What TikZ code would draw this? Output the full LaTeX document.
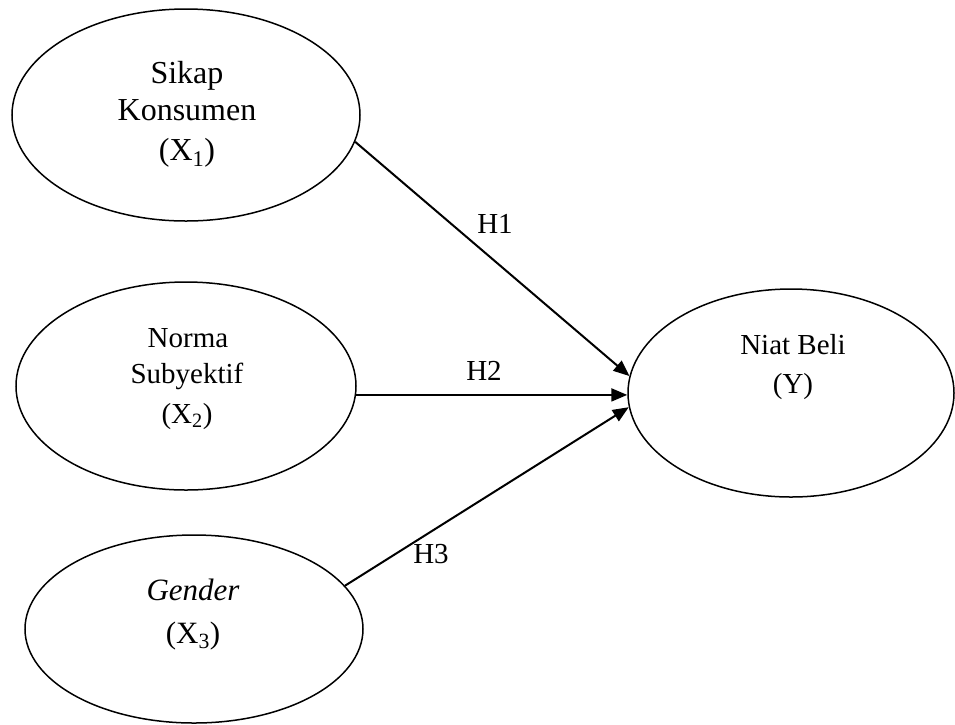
\documentclass[tikz,border=0pt]{standalone}
\usepackage{fontspec}
\setmainfont{Liberation Serif}
\usetikzlibrary{shapes.geometric,arrows.meta}
\begin{document}
\begin{tikzpicture}[x=1pt,y=-1pt,
  var/.style={draw, ellipse, line width=1.5pt, inner sep=0pt},
  txt/.style={anchor=base, inner sep=0pt},
  conn/.style={line width=2pt, -{Triangle[length=16pt,width=13pt]}},
  big/.style={font=\fontsize{32}{38}\selectfont},
  mid/.style={font=\fontsize{29}{35}\selectfont},
  gen/.style={font=\fontsize{31}{37}\selectfont}]
\useasboundingbox (0,0) rectangle (955,724);
% ellipses
\node[var, minimum width=348pt, minimum height=212pt] (e1) at (186,115) {};
\node[var, minimum width=340pt, minimum height=208pt] (e2) at (186,386) {};
\node[var, minimum width=338pt, minimum height=188pt] (e3) at (194,629) {};
\node[var, minimum width=326pt, minimum height=208pt] (e4) at (791,393) {};
% texts
\node[txt, big] (t1a) at (187,83) {Sikap};
\node[txt, big] (t1b) at (187,120) {Konsumen};
\node[txt, big] (t1c) at (187,160) {(X\textsubscript{1})};
\node[txt, mid] (t2a) at (188,347) {Norma};
\node[txt, mid] (t2b) at (187,383) {Subyektif};
\node[txt, mid] (t2c) at (187,423) {(X\textsubscript{2})};
\node[txt, gen] (t3a) at (193,600) {\itshape Gender};
\node[txt, gen] (t3b) at (193,643) {(X\textsubscript{3})};
\node[txt, mid] (t4a) at (793,354) {Niat Beli};
\node[txt, mid] (t4b) at (793,393) {(Y)};
% connectors
\draw[conn] (e1.-9.3) -- (e4.174);
\draw[conn] (e2.-3) -- (e2.-3 -| e4.west);
\draw[conn] (e3.16) -- (e4.185);
% connector labels
\node[txt, mid] (h1) at (495,233) {H1};
\node[txt, mid] (h2) at (484,380) {H2};
\node[txt, mid] (h3) at (431,563) {H3};
\end{tikzpicture}
\end{document}
